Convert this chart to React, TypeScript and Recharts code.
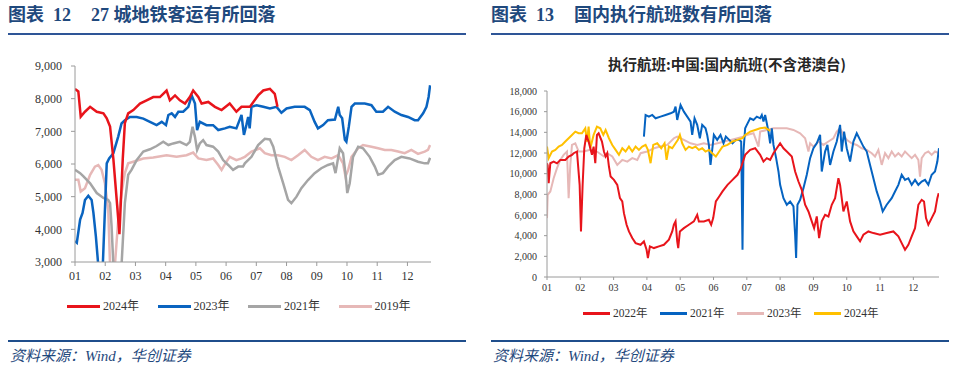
import React from 'react';
import { LineChart, Line, XAxis, YAxis } from 'recharts';

// ---- shared axis categories ----
const months = [1, 2, 3, 4, 5, 6, 7, 8, 9, 10, 11, 12];
const railTicks = [3000, 4000, 5000, 6000, 7000, 8000, 9000];
const flightTicks = [0, 2000, 4000, 6000, 8000, 10000, 12000, 14000, 16000, 18000];

// ---- 图表12: 27城地铁客运 (x = month position, y = 万人次) ----
const rail2024X = [1.0, 1.11, 1.19, 1.33, 1.5, 1.72, 1.94, 2.05, 2.16, 2.27, 2.38, 2.47, 2.58, 2.65, 2.76, 2.93, 3.15, 3.37, 3.59, 3.81, 4.03, 4.14, 4.31, 4.47, 4.64, 4.8, 4.91, 5.08, 5.19, 5.41, 5.63, 5.85, 6.12, 6.34, 6.51, 6.79, 7.06, 7.23, 7.45, 7.61, 7.7];
const rail2024 = [8300, 8220, 7450, 7600, 7750, 7600, 7550, 7400, 7150, 6150, 4900, 3850, 6150, 7250, 7550, 7650, 7850, 7950, 8050, 8050, 8250, 7950, 8100, 7950, 7850, 8050, 8250, 8050, 7850, 7900, 7750, 7650, 7850, 7600, 7750, 7750, 8100, 8250, 8300, 8150, 7750];

const rail2023X = [1.0, 1.06, 1.17, 1.25, 1.33, 1.44, 1.55, 1.61, 1.69, 1.77, 1.82, 1.88, 1.92, 2.05, 2.13, 2.27, 2.43, 2.54, 2.65, 2.82, 3.04, 3.26, 3.48, 3.7, 3.87, 4.01, 4.09, 4.2, 4.31, 4.42, 4.58, 4.75, 4.86, 4.97, 5.04, 5.13, 5.35, 5.57, 5.74, 5.96, 6.12, 6.34, 6.51, 6.59, 6.67, 6.73, 6.78, 6.84, 7.01, 7.23, 7.45, 7.67, 7.83, 8.0, 8.27, 8.6, 8.77, 8.93, 9.04, 9.21, 9.37, 9.6, 9.71, 9.76, 9.84, 9.93, 9.98, 10.06, 10.15, 10.26, 10.59, 10.81, 10.97, 11.19, 11.36, 11.58, 11.8, 12.02, 12.24, 12.35, 12.52, 12.63, 12.7, 12.75];
const rail2023 = [3640, 3590, 4300, 4500, 4900, 5030, 4900, 4500, 3790, 2900, 2200, 2200, 2900, 6020, 6170, 6330, 6840, 7240, 7340, 7440, 7440, 7390, 7290, 7190, 7290, 7190, 7500, 7550, 7440, 7600, 7600, 7750, 8100, 7850, 7040, 7290, 7190, 7190, 7040, 7090, 7140, 7090, 7500, 6890, 7190, 7440, 7090, 7750, 7800, 7750, 7700, 7750, 7570, 7700, 7750, 7750, 7650, 7290, 7090, 7190, 7340, 7360, 7750, 7500, 7400, 6740, 6680, 7140, 7750, 7850, 7850, 7800, 7600, 7600, 7750, 7600, 7500, 7440, 7340, 7340, 7550, 7750, 8050, 8410];

const rail2021X = [1.0, 1.17, 1.28, 1.5, 1.72, 1.94, 2.1, 2.16, 2.21, 2.27, 2.32, 2.49, 2.54, 2.65, 2.76, 2.87, 3.04, 3.26, 3.48, 3.7, 3.92, 4.09, 4.25, 4.47, 4.69, 4.8, 4.89, 4.97, 5.04, 5.13, 5.24, 5.35, 5.57, 5.74, 5.9, 6.07, 6.23, 6.4, 6.56, 6.62, 6.84, 7.06, 7.28, 7.45, 7.56, 7.72, 7.89, 8.05, 8.16, 8.33, 8.49, 8.71, 8.93, 9.15, 9.37, 9.54, 9.62, 9.76, 9.87, 9.96, 10.01, 10.09, 10.2, 10.37, 10.53, 10.75, 10.92, 11.03, 11.19, 11.36, 11.58, 11.8, 12.07, 12.35, 12.57, 12.68, 12.75];
const rail2021 = [5820, 5720, 5620, 5410, 5110, 4960, 4900, 4800, 4100, 2900, 2200, 2200, 2900, 4800, 5670, 5820, 6120, 6380, 6450, 6550, 6680, 6580, 6630, 6680, 6580, 6680, 7140, 6830, 6430, 6630, 6730, 6580, 6530, 6380, 6120, 5970, 5820, 5920, 5920, 6020, 6220, 6580, 6770, 6750, 6530, 5920, 5410, 4900, 4800, 5000, 5260, 5510, 5720, 5870, 5970, 6020, 5720, 6480, 6330, 5620, 5110, 5410, 6220, 6530, 6480, 6220, 5920, 5670, 5720, 5920, 6120, 6220, 6170, 6070, 6020, 6020, 6190];

const rail2019X = [1.0, 1.11, 1.19, 1.33, 1.5, 1.66, 1.77, 1.88, 1.99, 2.1, 2.16, 2.21, 2.27, 2.32, 2.43, 2.54, 2.65, 2.76, 2.93, 3.26, 3.59, 4.03, 4.36, 4.69, 4.91, 5.08, 5.35, 5.57, 5.74, 5.85, 6.01, 6.12, 6.34, 6.51, 6.62, 6.84, 7.12, 7.28, 7.5, 7.72, 7.94, 8.16, 8.38, 8.6, 8.82, 9.04, 9.26, 9.49, 9.71, 9.87, 9.95, 10.04, 10.15, 10.37, 10.53, 10.81, 11.03, 11.25, 11.47, 11.69, 11.91, 12.13, 12.35, 12.57, 12.68, 12.75];
const rail2019 = [5520, 5520, 5160, 5260, 5670, 5920, 5970, 5820, 5410, 4600, 2900, 2200, 2200, 2900, 4290, 5110, 5720, 6020, 6070, 6170, 6200, 6270, 6220, 6270, 6350, 6170, 6120, 6170, 5970, 5820, 6070, 6220, 6120, 6170, 6220, 6380, 6480, 6330, 6270, 6270, 6220, 6120, 6270, 6430, 6220, 6120, 6220, 6170, 6270, 6020, 5620, 5820, 6220, 6480, 6580, 6530, 6480, 6430, 6430, 6380, 6330, 6430, 6310, 6380, 6430, 6580];

// ---- 图表13: 国内执行航班 (架次) ----
const fl2022X = [1.0, 1.02, 1.05, 1.1, 1.2, 1.3, 1.4, 1.55, 1.65, 1.75, 1.8, 1.9, 1.98, 2.02, 2.07, 2.12, 2.18, 2.25, 2.35, 2.4, 2.45, 2.5, 2.55, 2.65, 2.71, 2.76, 2.81, 2.86, 2.91, 3.01, 3.11, 3.19, 3.26, 3.31, 3.39, 3.46, 3.56, 3.66, 3.81, 3.91, 3.99, 4.03, 4.09, 4.21, 4.36, 4.51, 4.66, 4.76, 4.81, 4.86, 4.91, 4.94, 4.99, 5.11, 5.26, 5.41, 5.51, 5.56, 5.71, 5.86, 5.93, 5.99, 6.07, 6.17, 6.27, 6.42, 6.57, 6.72, 6.82, 6.95, 7.1, 7.25, 7.4, 7.5, 7.6, 7.7, 7.8, 7.9, 8.0, 8.1, 8.2, 8.35, 8.45, 8.55, 8.65, 8.75, 8.85, 8.95, 9.02, 9.1, 9.17, 9.25, 9.35, 9.45, 9.55, 9.65, 9.75, 9.8, 9.9, 10.0, 10.1, 10.2, 10.3, 10.4, 10.5, 10.65, 10.8, 11.0, 11.2, 11.4, 11.55, 11.65, 11.75, 11.85, 11.95, 12.05, 12.15, 12.25, 12.32, 12.38, 12.45, 12.55, 12.65, 12.72, 12.76];
const fl2022 = [11000, 10800, 9080, 11010, 11170, 11000, 11330, 11330, 11660, 11820, 11980, 12140, 8920, 4410, 8920, 12460, 13750, 13100, 11820, 12620, 11010, 13750, 13910, 13100, 12140, 11660, 11980, 10690, 9720, 9400, 8920, 7630, 7310, 6180, 5060, 4410, 3770, 3280, 3120, 3450, 2640, 1840, 2960, 2800, 2960, 3120, 3610, 4410, 5060, 5380, 3450, 2800, 4410, 4730, 5060, 5380, 6020, 5380, 5380, 5540, 5060, 5700, 7310, 7790, 8280, 8920, 9400, 9890, 10530, 11820, 12300, 12460, 11820, 11170, 11500, 11330, 11980, 12460, 12940, 12460, 12140, 11660, 10210, 9240, 8440, 6990, 6340, 5380, 4730, 5860, 3770, 5380, 6020, 5860, 6990, 7630, 9560, 8920, 6340, 7310, 5380, 4410, 3930, 3450, 4090, 4410, 4250, 4090, 4250, 4410, 3930, 3280, 2640, 3120, 3930, 4730, 6990, 7470, 7310, 5700, 5060, 5700, 6340, 7630, 8110];

const fl2021X = [3.91, 3.96, 4.06, 4.16, 4.26, 4.41, 4.56, 4.71, 4.81, 4.86, 4.91, 5.01, 5.11, 5.21, 5.31, 5.36, 5.43, 5.51, 5.59, 5.66, 5.76, 5.81, 5.86, 5.91, 5.96, 6.01, 6.11, 6.21, 6.3, 6.37, 6.47, 6.57, 6.67, 6.77, 6.83, 6.87, 6.9, 6.95, 7.0, 7.1, 7.2, 7.3, 7.4, 7.45, 7.5, 7.55, 7.6, 7.65, 7.7, 7.75, 7.8, 7.88, 7.95, 8.0, 8.1, 8.2, 8.3, 8.4, 8.45, 8.48, 8.52, 8.6, 8.7, 8.8, 8.9, 9.0, 9.1, 9.2, 9.25, 9.35, 9.42, 9.5, 9.6, 9.7, 9.8, 9.85, 9.92, 10.0, 10.1, 10.2, 10.3, 10.4, 10.5, 10.6, 10.7, 10.8, 10.9, 11.0, 11.08, 11.2, 11.35, 11.45, 11.55, 11.65, 11.75, 11.85, 11.95, 12.05, 12.15, 12.25, 12.35, 12.45, 12.55, 12.65, 12.72, 12.77];
const fl2021 = [13590, 15680, 15520, 15680, 15360, 15520, 15680, 15840, 16000, 16490, 15200, 16650, 16000, 15520, 15040, 13750, 15360, 14720, 13430, 14720, 14390, 13750, 12780, 10850, 12300, 13750, 13270, 13750, 12940, 13590, 13270, 12940, 13270, 13270, 13110, 2640, 12140, 14390, 14720, 15360, 15200, 15520, 15360, 15680, 15040, 15680, 14880, 14070, 12940, 14390, 12780, 11500, 10210, 8920, 7630, 6990, 7310, 6830, 4090, 1840, 6990, 7470, 8600, 9890, 11500, 12460, 12940, 13750, 10210, 12140, 12780, 10850, 12140, 13110, 14720, 12140, 14070, 12460, 11170, 13110, 13910, 13270, 12620, 12140, 10850, 9560, 8280, 7310, 6340, 6990, 7630, 8280, 8920, 9890, 9400, 9560, 8920, 9400, 8920, 9240, 9400, 8920, 9890, 10210, 11170, 12460];

const fl2023X = [1.0, 1.02, 1.1, 1.2, 1.3, 1.4, 1.5, 1.6, 1.65, 1.7, 1.75, 1.85, 1.95, 2.1, 2.3, 2.5, 2.71, 2.81, 2.96, 3.11, 3.26, 3.41, 3.56, 3.71, 3.81, 4.01, 4.21, 4.41, 4.61, 4.81, 4.91, 5.11, 5.31, 5.51, 5.71, 5.91, 6.12, 6.32, 6.52, 6.72, 6.92, 7.0, 7.2, 7.35, 7.4, 7.6, 7.8, 8.0, 8.2, 8.4, 8.6, 8.75, 8.85, 8.9, 9.0, 9.15, 9.3, 9.45, 9.6, 9.7, 9.8, 9.9, 10.0, 10.15, 10.3, 10.45, 10.6, 10.75, 10.85, 10.95, 11.05, 11.15, 11.25, 11.35, 11.45, 11.55, 11.65, 11.75, 11.85, 11.95, 12.05, 12.15, 12.2, 12.25, 12.35, 12.45, 12.55, 12.65, 12.77];
const fl2023 = [5700, 7950, 8280, 9560, 10530, 11330, 11820, 12140, 7630, 10850, 12780, 12940, 12140, 12140, 12300, 12140, 11660, 11980, 11660, 10850, 11330, 11170, 11500, 11330, 11980, 12140, 12460, 12620, 12780, 13430, 13590, 13270, 12940, 12780, 12940, 12780, 12940, 13110, 13270, 13430, 13590, 13750, 13910, 12620, 14070, 14230, 14390, 14390, 14390, 14230, 13910, 13430, 12140, 12940, 12620, 13110, 12780, 13110, 13430, 14070, 14390, 13750, 13270, 12940, 12780, 12460, 12300, 11980, 11660, 12300, 10850, 11980, 11500, 12140, 11660, 11980, 11660, 12140, 11820, 11500, 11820, 11330, 9720, 11500, 11980, 12140, 11820, 12140, 11980];

const fl2024X = [1.0, 1.05, 1.15, 1.25, 1.35, 1.45, 1.55, 1.65, 1.75, 1.85, 1.95, 2.05, 2.15, 2.2, 2.25, 2.3, 2.4, 2.5, 2.6, 2.69, 2.76, 2.86, 2.96, 3.06, 3.16, 3.26, 3.36, 3.46, 3.56, 3.66, 3.76, 3.86, 3.96, 4.03, 4.11, 4.19, 4.31, 4.43, 4.53, 4.59, 4.66, 4.76, 4.86, 4.93, 4.99, 5.06, 5.16, 5.26, 5.36, 5.46, 5.56, 5.66, 5.76, 5.86, 5.96, 6.07, 6.17, 6.27, 6.42, 6.57, 6.72, 6.87, 6.95, 7.1, 7.25, 7.4, 7.55, 7.7];
const fl2024 = [12620, 11500, 12140, 12300, 12620, 12780, 13110, 13430, 13750, 14070, 13910, 13910, 14390, 13110, 14550, 12460, 13750, 14550, 14390, 13750, 14230, 13430, 12780, 12300, 11820, 12460, 12140, 12620, 12140, 12620, 12300, 12620, 12780, 12300, 11010, 12780, 12940, 12460, 12940, 11330, 12620, 12460, 12940, 13270, 13750, 12940, 12300, 12620, 12460, 12620, 12300, 12460, 12140, 12300, 11980, 11660, 12140, 12620, 12780, 13110, 13270, 13430, 13750, 14070, 14230, 14390, 14460, 14140];

const railLegend = [
  { name: '2024年', color: '#E8141B' },
  { name: '2023年', color: '#0A64C0' },
  { name: '2021年', color: '#A5A5A5' },
  { name: '2019年', color: '#E6B8B7' },
];
const flightLegend = [
  { name: '2022年', color: '#E8141B' },
  { name: '2021年', color: '#0563C1' },
  { name: '2023年', color: '#E6B8B7' },
  { name: '2024年', color: '#FFC000' },
];

const serif = '"Liberation Serif", "Noto Sans CJK SC", serif';
const titleBlue = '#1F497D';

const pts = (xs: number[], ys: number[]) => xs.map((x, i) => ({ x, y: ys[i] }));
const mm = (m: number) => String(m).padStart(2, '0');
const thousands = (v: number) => v.toLocaleString('en-US');

function Legend({ items, left, top, step, lineW, fontSize }: any) {
  return (
    <div style={{ position: 'absolute', left, top, display: 'flex', alignItems: 'center' }}>
      {items.map((it: any) => (
        <div key={it.name} style={{ width: step, display: 'flex', alignItems: 'center' }}>
          <span style={{ display: 'inline-block', width: lineW, height: 3, background: it.color, marginRight: 3 }} />
          <span style={{ fontFamily: serif, fontSize, color: '#333', lineHeight: '14px' }}>{it.name}</span>
        </div>
      ))}
    </div>
  );
}

function Panel({ x, num, title }: { x: number; num: string; title: string }) {
  return (
    <>
      <div style={{ position: 'absolute', left: x, top: 5, fontFamily: serif, fontWeight: 700, fontSize: 18, color: titleBlue, whiteSpace: 'nowrap', lineHeight: '20px' }}>
        图表<span style={{ marginLeft: 9 }}>{num}</span>
        <span style={{ marginLeft: 20 }}>{title}</span>
      </div>
      <div style={{ position: 'absolute', left: x, top: 33, width: 458, height: 2, background: '#2E5597' }} />
      <div style={{ position: 'absolute', left: x, top: 340, width: 458, height: 2, background: '#1F4E8C' }} />
      <div style={{ position: 'absolute', left: x + 2, top: 347, fontFamily: serif, fontStyle: 'italic', fontSize: 15, color: titleBlue, lineHeight: '18px', whiteSpace: 'nowrap' }}>
        资料来源：Wind，华创证券
      </div>
    </>
  );
}

function RailChart() {
  const tick = { fontSize: 12, fill: '#333', fontFamily: serif };
  return (
    <LineChart width={480} height={300} margin={{ top: 66, right: 49, bottom: 18, left: 0 }}>
      <XAxis dataKey="x" type="number" domain={[1, 12.78]} ticks={months} interval={0} tickFormatter={mm}
        height={20} tickSize={4} tickMargin={5} tick={tick} stroke="#9a9a9a" allowDataOverflow />
      <YAxis type="number" domain={[3000, 9000]} ticks={railTicks} interval={0} tickFormatter={thousands}
        width={75} tickSize={4} tickMargin={9} tick={tick} stroke="#9a9a9a" allowDataOverflow />
      <Line data={pts(rail2019X, rail2019)} dataKey="y" stroke="#E6B8B7" strokeWidth={2.5} dot={false} isAnimationActive={false} />
      <Line data={pts(rail2021X, rail2021)} dataKey="y" stroke="#A5A5A5" strokeWidth={2.5} dot={false} isAnimationActive={false} />
      <Line data={pts(rail2023X, rail2023)} dataKey="y" stroke="#0A64C0" strokeWidth={2.5} dot={false} isAnimationActive={false} />
      <Line data={pts(rail2024X, rail2024)} dataKey="y" stroke="#E8141B" strokeWidth={2.5} dot={false} isAnimationActive={false} />
    </LineChart>
  );
}

function FlightChart() {
  const tick = { fontSize: 10, fill: '#333', fontFamily: serif };
  return (
    <LineChart width={480} height={300} margin={{ top: 91, right: 21, bottom: 3, left: 0 }}>
      <XAxis dataKey="x" type="number" domain={[1, 12.77]} ticks={months} interval={0} tickFormatter={mm}
        height={20} tickSize={3} tickMargin={4} tick={tick} stroke="#9a9a9a" allowDataOverflow />
      <YAxis type="number" domain={[0, 18000]} ticks={flightTicks} interval={0} tickFormatter={thousands}
        width={67} tickSize={3} tickMargin={7} tick={tick} stroke="#9a9a9a" allowDataOverflow />
      <Line data={pts(fl2023X, fl2023)} dataKey="y" stroke="#E6B8B7" strokeWidth={2} dot={false} isAnimationActive={false} />
      <Line data={pts(fl2021X, fl2021)} dataKey="y" stroke="#0563C1" strokeWidth={2} dot={false} isAnimationActive={false} />
      <Line data={pts(fl2024X, fl2024)} dataKey="y" stroke="#FFC000" strokeWidth={2} dot={false} isAnimationActive={false} />
      <Line data={pts(fl2022X, fl2022)} dataKey="y" stroke="#E8141B" strokeWidth={2} dot={false} isAnimationActive={false} />
    </LineChart>
  );
}

export default function App() {
  return (
    <div style={{ position: 'absolute', left: 0, top: 0, width: 960, height: 371, background: '#fff', overflow: 'hidden' }}>
      <Panel x={8} num="12" title="27 城地铁客运有所回落" />
      <Panel x={491} num="13" title="国内执行航班数有所回落" />

      <div style={{ position: 'absolute', left: 0, top: 0 }}>
        <RailChart />
      </div>
      <Legend items={railLegend} left={67} top={299} step={90.5} lineW={33} fontSize={12} />

      <div style={{ position: 'absolute', left: 480, top: 0 }}>
        <FlightChart />
      </div>
      <div style={{ position: 'absolute', left: 480, width: 494, top: 55, textAlign: 'center', fontFamily: '"Noto Sans CJK SC", sans-serif', fontWeight: 700, fontSize: 14.5, color: '#262626', lineHeight: '18px', whiteSpace: 'nowrap' }}>
        执行航班:中国:国内航班(不含港澳台)
      </div>
      <Legend items={flightLegend} left={583} top={306} step={77} lineW={27} fontSize={11.5} />
    </div>
  );
}
